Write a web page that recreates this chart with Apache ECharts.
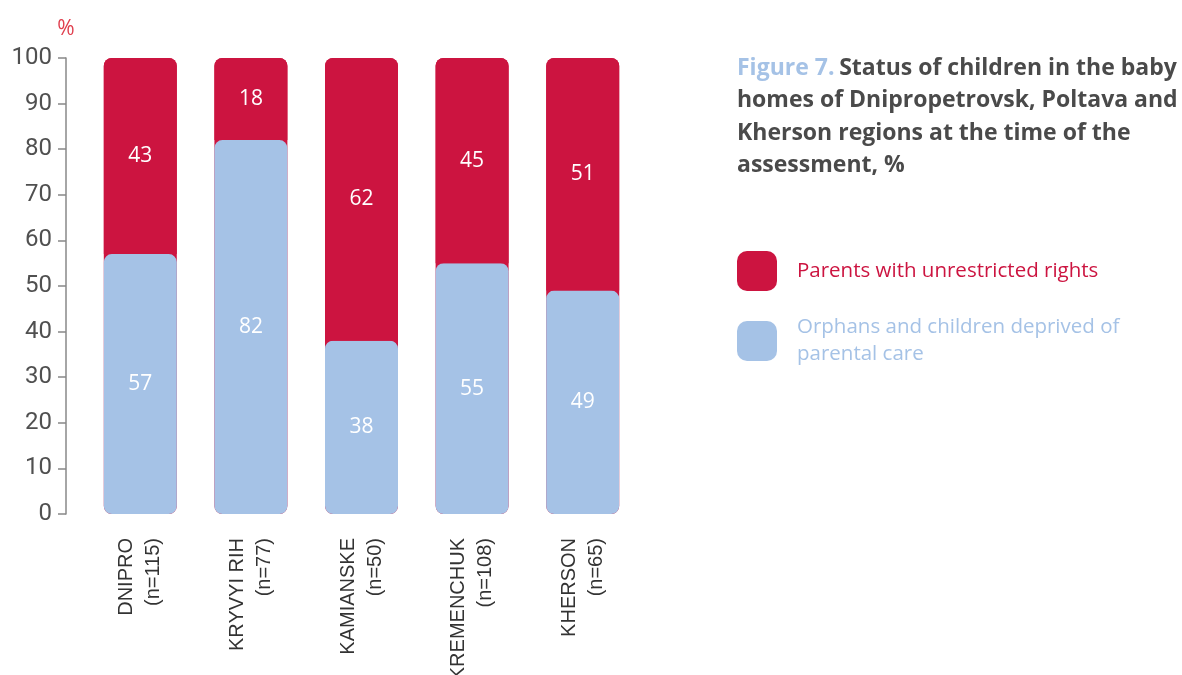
<!DOCTYPE html>
<html>
<head>
<meta charset="utf-8">
<script src="https://cdn.jsdelivr.net/npm/echarts@6/dist/echarts.min.js"></script>
<style>
  html, body { margin: 0; padding: 0; background: #fff; }
  #chart { width: 1182px; height: 675px; }
</style>
</head>
<body>
<div id="chart"></div>
<script>
// Baby homes and sample sizes
const categories = ['DNIPRO\n(n=115)', 'KRYVYI RIH\n(n=77)', 'KAMIANSKE\n(n=50)', 'KREMENCHUK\n(n=108)', 'KHERSON\n(n=65)'];
// Shares of children, %
const orphans = [57, 82, 38, 55, 49];
const parents = [43, 18, 62, 45, 51];
const seriesNames = ['Parents with unrestricted rights', 'Orphans and children deprived of parental care'];

const RED = '#cc1440';
const BLUE = '#a5c2e6';
const FONT = '"Open Sans", Lato, sans-serif';
const AXIS_FONT = 'Roboto, "Liberation Sans", Arial, sans-serif';
const CAT_FONT = '"Liberation Sans", Arial, sans-serif';

const chart = echarts.init(document.getElementById('chart'));
chart.setOption({
  animation: false,
  backgroundColor: '#fff',
  title: {
    left: 737,
    top: 52,
    padding: 0,
    text: '{a|Figure 7.} {b|Status of children in the baby}\n{b|homes of Dnipropetrovsk, Poltava and}\n{b|Kherson regions at the time of the}\n{b|assessment, %}',
    textStyle: {
      fontFamily: FONT,
      rich: {
        a: { color: BLUE, fontSize: 23, fontWeight: 'bold', fontFamily: FONT, lineHeight: 32.5 },
        b: { color: '#4a4a4a', fontSize: 23, fontWeight: 'bold', fontFamily: FONT, lineHeight: 32.5 }
      }
    }
  },
  legend: {
    orient: 'vertical',
    left: 737,
    top: 251,
    padding: 0,
    itemWidth: 40,
    itemHeight: 40,
    itemGap: 23,
    icon: 'roundRect',
    selectedMode: false,
    formatter: function (name) {
      return name === seriesNames[1] ? 'Orphans and children deprived of\nparental care' : name;
    },
    data: [
      { name: seriesNames[0], textStyle: { color: RED } },
      { name: seriesNames[1], textStyle: { color: BLUE } }
    ],
    textStyle: {
      fontFamily: FONT,
      fontSize: 20.5,
      lineHeight: 27,
      padding: [0, 0, 0, 15]
    }
  },
  grid: { left: 85, top: 58, width: 553, bottom: 161, containLabel: false, outerBoundsMode: 'none' },
  xAxis: {
    type: 'category',
    data: categories,
    axisLine: { show: false },
    axisTick: { show: false },
    axisLabel: {
      rotate: 90,
      margin: 24,
      fontFamily: CAT_FONT,
      fontSize: 20,
      lineHeight: 27,
      color: '#333'
    }
  },
  yAxis: {
    type: 'value',
    min: 0,
    max: 100,
    interval: 10,
    offset: 19,
    name: '%',
    nameLocation: 'end',
    nameGap: 18,
    nameTextStyle: { color: '#e0404f', fontSize: 21, fontFamily: FONT, align: 'center' },
    axisLine: { show: true, lineStyle: { color: '#888', width: 1.5 } },
    axisTick: { show: true, length: 8, lineStyle: { color: '#888', width: 1.5 } },
    axisLabel: {
      fontFamily: AXIS_FONT,
      fontSize: 24,
      color: '#505050',
      margin: 14
    },
    splitLine: { show: false }
  },
  series: [
    {
      name: seriesNames[1],
      type: 'bar',
      stack: 'total',
      barWidth: 73,
      data: orphans,
      itemStyle: { color: BLUE, borderRadius: [8, 8, 8, 8] },
      showBackground: true,
      backgroundStyle: { color: RED, borderRadius: [8, 8, 8, 8] },
      label: {
        show: true,
        position: 'inside',
        color: '#fff',
        fontSize: 21,
        fontWeight: 500,
        fontFamily: FONT
      }
    },
    {
      name: seriesNames[0],
      type: 'bar',
      stack: 'total',
      barWidth: 73,
      data: parents,
      itemStyle: { color: RED, borderRadius: [8, 8, 0, 0] },
      label: {
        show: true,
        position: 'inside',
        color: '#fff',
        fontSize: 21,
        fontWeight: 500,
        fontFamily: FONT
      }
    }
  ]
});
</script>
</body>
</html>
